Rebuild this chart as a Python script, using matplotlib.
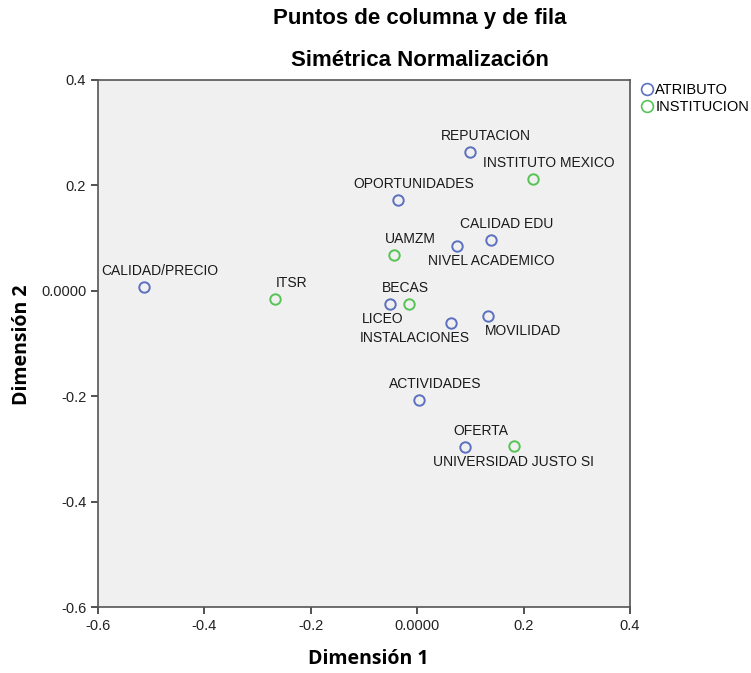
import matplotlib
matplotlib.use("Agg")
import matplotlib.pyplot as plt
from matplotlib.lines import Line2D

plt.rcParams['font.family'] = ['Liberation Sans', 'DejaVu Sans']

# Data
attr_names = ["CALIDAD/PRECIO", "REPUTACION", "OPORTUNIDADES", "CALIDAD EDU", "NIVEL ACADEMICO",
              "BECAS", "INSTALACIONES", "MOVILIDAD", "ACTIVIDADES", "OFERTA"]
attr_x = [-0.513, 0.099, -0.037, 0.139, 0.075, -0.052, 0.063, 0.134, 0.004, 0.090]
attr_y = [0.006, 0.262, 0.172, 0.096, 0.084, -0.025, -0.062, -0.048, -0.208, -0.296]

inst_names = ["ITSR", "INSTITUTO MEXICO", "UAMZM", "LICEO", "UNIVERSIDAD JUSTO SI"]
inst_x = [-0.267, 0.218, -0.043, -0.016, 0.181]
inst_y = [-0.016, 0.211, 0.067, -0.025, -0.295]

x_ticks = [-0.6, -0.4, -0.2, 0.0, 0.2, 0.4]
x_ticklabels = ["-0.6", "-0.4", "-0.2", "0.0000", "0.2", "0.4"]
y_ticks = [-0.6, -0.4, -0.2, 0.0, 0.2, 0.4]
y_ticklabels = ["-0.6", "-0.4", "-0.2", "0.0000", "0.2", "0.4"]

# label offsets in pixels (dx, dy) relative to point
attr_off = {"NIVEL ACADEMICO": (34, -15), "INSTALACIONES": (-36, -15), "MOVILIDAD": (35, -15)}
inst_off = {"LICEO": (-26, -15), "UNIVERSIDAD JUSTO SI": (0, -16)}
default_off = (16, 16)

blue = "#5b70c0"
green = "#55c455"

fig = plt.figure(figsize=(7.51, 6.73), dpi=100)
ax = fig.add_axes([0.1305, 0.098, 0.7084, 0.7838])
ax.set_facecolor("#f0f0f0")

ax.plot(attr_x, attr_y, 'o', ms=7.5, mfc='none', mec=blue, mew=1.4, label="ATRIBUTO")
ax.plot(inst_x, inst_y, 'o', ms=7.5, mfc='none', mec=green, mew=1.4, label="INSTITUCION")

px = 72.0 / 100.0
for names, xs, ys, offs in [(attr_names, attr_x, attr_y, attr_off), (inst_names, inst_x, inst_y, inst_off)]:
    for n, x, y in zip(names, xs, ys):
        dx, dy = offs.get(n, default_off)
        ax.annotate(n, (x, y), xytext=(dx * px, dy * px), textcoords='offset points',
                    ha='center', va='center', fontsize=10, color='#1a1a1a')

ax.set_xlim(-0.6, 0.4)
ax.set_ylim(-0.6, 0.4)
ax.set_xticks(x_ticks)
ax.set_xticklabels(x_ticklabels)
ax.set_yticks(y_ticks)
ax.set_yticklabels(y_ticklabels)
ax.tick_params(direction='out', length=5, width=1.2, labelsize=10.5, colors='#333333', labelcolor='#222222')
for s in ax.spines.values():
    s.set_color('#555555')
    s.set_linewidth(1.2)

fig.text(368 / 751, 1 - 659 / 673, "Dimensión 1", ha='center', va='center', fontsize=14,
         fontweight='bold', family=['Open Sans', 'DejaVu Sans'])
fig.text(22 / 751, 1 - 345 / 673, "Dimensión 2", ha='center', va='center', fontsize=14,
         fontweight='bold', rotation=90, family=['Open Sans', 'DejaVu Sans'])

fig.text(0.5593, 0.973, "Puntos de columna y de fila", ha='center', va='center', fontsize=16, fontweight='bold')
fig.text(0.5593, 0.910, "Simétrica Normalización", ha='center', va='center', fontsize=16, fontweight='bold')

handles = [Line2D([], [], marker='o', ls='none', ms=8.5, mfc='none', mec=blue, mew=1.2),
           Line2D([], [], marker='o', ls='none', ms=8.5, mfc='none', mec=green, mew=1.2)]
fig.legend(handles, ["ATRIBUTO", "INSTITUCION"], loc='upper left', bbox_to_anchor=(0.852, 0.877),
           frameon=False, fontsize=10.5, handletextpad=0.05, labelspacing=0.25, handlelength=1.0,
           borderaxespad=0, borderpad=0)

fig.savefig("out.png", dpi=100)
